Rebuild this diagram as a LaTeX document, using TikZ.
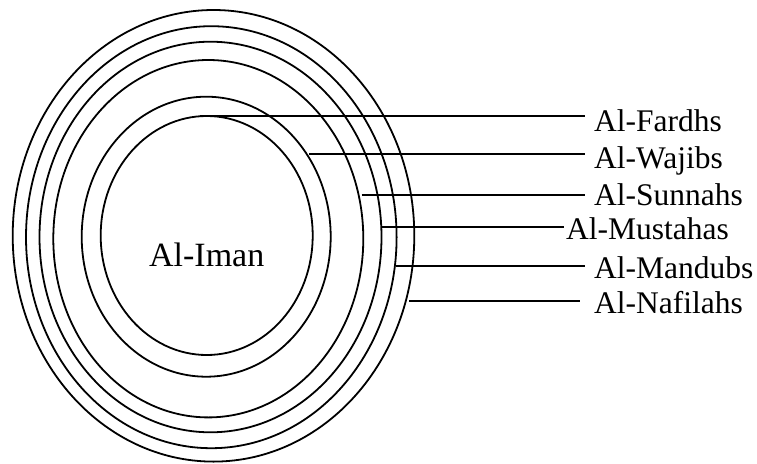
\documentclass[tikz,border=0pt]{standalone}
\usepackage{fontspec}
\setmainfont{Liberation Serif}
\begin{document}
\begin{tikzpicture}[x=1pt,y=-1pt,
  ring/.style={draw=black,line width=1.8pt},
  lead/.style={draw=black,line width=1.8pt},
  lbl/.style={anchor=base west,inner sep=0pt,font=\fontsize{31.5}{31.5}\selectfont},
  ctr/.style={inner sep=0pt,font=\fontsize{34}{34}\selectfont}]
\useasboundingbox (0,0) rectangle (757,463);
% rings
\draw[ring] (206.7,235.5) ellipse [x radius=106,y radius=119.5];
\draw[ring] (206.2,236.7) ellipse [x radius=124.5,y radius=140];
\draw[ring] (208.3,238.7) ellipse [x radius=155,y radius=178.7];
\draw[ring] (210.5,237) ellipse [x radius=171,y radius=195.3];
\draw[ring] (211.3,237.2) ellipse [x radius=185.3,y radius=211];
\draw[ring] (213.5,235.8) ellipse [x radius=200.8,y radius=225.8];
\node[ctr,anchor=base] (iman) at (206.7,266.5) {Al-Iman};
% leader start and end points
\coordinate (s1) at (200,116);
\coordinate (s2) at (309.3,154);
\coordinate (s3) at (361.7,195);
\coordinate (s4) at (381.7,227);
\coordinate (s5) at (396,266);
\coordinate (s6) at (409.3,301);
\coordinate (e1) at (585,116);
\coordinate (e2) at (585,154);
\coordinate (e3) at (585,195);
\coordinate (e4) at (563.5,227);
\coordinate (e5) at (585,266);
\coordinate (e6) at (580,301);
% labels
\node[lbl] (l1) at (594,131) {Al-Fardhs};
\node[lbl] (l2) at (594,168) {Al-Wajibs};
\node[lbl] (l3) at (594,205) {Al-Sunnahs};
\node[lbl] (l4) at (566,239.5) {Al-Mustahas};
\node[lbl] (l5) at (594,278) {Al-Mandubs};
\node[lbl] (l6) at (594,313) {Al-Nafilahs};
% leaders
\draw[lead] (s1) -- (e1);
\draw[lead] (s2) -- (e2);
\draw[lead] (s3) -- (e3);
\draw[lead] (s4) -- (e4);
\draw[lead] (s5) -- (e5);
\draw[lead] (s6) -- (e6);
\end{tikzpicture}
\end{document}
